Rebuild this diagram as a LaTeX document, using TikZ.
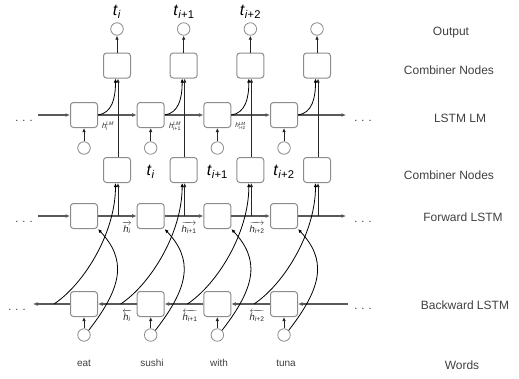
\documentclass[tikz,border=0pt]{standalone}
\usepackage{fontspec}
\setmainfont{Liberation Sans}
\usepackage{amsmath}
\usetikzlibrary{arrows.meta}
\newcommand{\mydots}{.\hspace{4pt}.\hspace{4pt}.}
\begin{document}
\begin{tikzpicture}[x=1pt,y=-1pt,
 cell/.style={draw=black!45, line width=1pt, rounded corners=3pt, minimum width=27pt, minimum height=25pt, inner sep=0pt, fill=white},
 io/.style={circle, draw=black!45, line width=0.8pt, minimum size=12.5pt, inner sep=0pt, fill=white},
 tip/.style={-{Latex[length=4pt,width=3.5pt]}},
 hline/.style={draw=black!65, line width=1.4pt, -{Latex[length=4.5pt,width=4pt]}},
 vline/.style={draw=black!85, line width=1pt, tip},
 curve/.style={draw=black, line width=0.8pt, tip},
 lab/.style={font=\fontsize{12}{14}\selectfont, text=black!75},
 tl/.style={font=\fontsize{16}{18}\selectfont},
 hl/.style={font=\fontsize{9.5}{10}\selectfont, text=black!85, inner sep=1pt},
 hlm/.style={font=\fontsize{7.5}{8}\selectfont, text=black!85, inner sep=0.5pt},
 dots/.style={font=\fontsize{11}{12}\selectfont, anchor=base, text=black!80},
]
\useasboundingbox (0,0) rectangle (519,378);

\foreach \i in {1,...,4} {
  \pgfmathsetmacro\bx{84+66.67*(\i-1)}
  \pgfmathsetmacro\cx{\bx+33}
  \node[cell] (lm\i) at (\bx,115) {};
  \node[cell] (uc\i) at (\cx,65.5) {};
  \node[io] (out\i) at (\cx,29) {};
  \node[io] (in\i) at (\bx,148) {};
  \node[cell] (lc\i) at (\cx,170) {};
  \node[cell] (fw\i) at (\bx,216) {};
  \node[cell] (bw\i) at (\bx,304) {};
  \node[io] (w\i) at (\bx,335) {};
  \coordinate (fj\i) at (\cx,216);
  \coordinate (bj\i) at (\bx-30,304);
}

% horizontal chains
\coordinate (lmL) at (38,115);  \coordinate (lmR) at (346,115);
\coordinate (fwL) at (38,216);  \coordinate (fwR) at (346,216);
\coordinate (bwL) at (33,304);  \coordinate (bwR) at (348,304);
\draw[hline] (lmL) -- (lm1);
\draw[hline] (lm1) -- (lm2);
\draw[hline] (lm2) -- (lm3);
\draw[hline] (lm3) -- (lm4);
\draw[hline] (lm4) -- (lmR);
\draw[hline] (fwL) -- (fw1);
\draw[hline] (fw1) -- (fw2);
\draw[hline] (fw2) -- (fw3);
\draw[hline] (fw3) -- (fw4);
\draw[hline] (fw4) -- (fwR);
\draw[hline] (bwR) -- (bw4);
\draw[hline] (bw4) -- (bw3);
\draw[hline] (bw3) -- (bw2);
\draw[hline] (bw2) -- (bw1);
\draw[hline] (bw1) -- (bwL);

\foreach \i in {1,...,4} {
  \draw[vline] (uc\i) -- (out\i);
  \draw[vline] (in\i) -- (lm\i);
  \draw[vline] (w\i) -- (bw\i);
  \draw[vline] ([xshift=1pt]lc\i.north) -- ([xshift=1pt]uc\i.south);
  \draw[vline] ([xshift=1pt]fj\i) -- ([xshift=1pt]lc\i.south);
  \draw[curve] (lm\i.east) .. controls +(14,-2) and +(0,20) .. ([xshift=-1.5pt]uc\i.south);
  \draw[curve] (bj\i) .. controls +(30,-20) and +(0,50) .. ([xshift=-1.5pt]lc\i.south);
  \draw[curve] (w\i.north east) .. controls +(35,-45) and +(28,30) .. (fw\i.south east);
}

% labels
\node[tl] (t1) at (117,12) {\textit{t}\textsubscript{\textit{i}}};
\node[tl] (t2) at (184,12) {\textit{t}\textsubscript{\textit{i}+1}};
\node[tl] (t3) at (250.5,12) {\textit{t}\textsubscript{\textit{i}+2}};
\node[tl] (s1) at (150.7,172) {\textit{t}\textsubscript{\textit{i}}};
\node[tl] (s2) at (217.3,172) {\textit{t}\textsubscript{\textit{i}+1}};
\node[tl] (s3) at (284,172) {\textit{t}\textsubscript{\textit{i}+2}};

\node[hlm] (hl1) at (108,126) {$\textit{h}^{\text{\textit{LM}}}_{\text{\textit{i}}}$};
\node[hlm] (hl2) at (175,126.5) {$\textit{h}^{\text{\textit{LM}}}_{\text{\textit{i}+1}}$};
\node[hlm, font=\fontsize{6.5}{7}\selectfont] (hl3) at (240.5,126) {$\textit{h}^{\text{\textit{LM}}}_{\text{\textit{i}+2}}$};

\node[hl] (hf1) at (127,228) {$\overrightarrow{\textit{h}_{\text{\textit{i}}}}$};
\node[hl] (hf2) at (189,228) {$\overrightarrow{\textit{h}_{\text{\textit{i}+1}}}$};
\node[hl] (hf3) at (257,228) {$\overrightarrow{\textit{h}_{\text{\textit{i}+2}}}$};
\node[hl] (hb1) at (127,316) {$\overleftarrow{\textit{h}_{\text{\textit{i}}}}$};
\node[hl] (hb2) at (190,316) {$\overleftarrow{\textit{h}_{\text{\textit{i}+1}}}$};
\node[hl] (hb3) at (257,316) {$\overleftarrow{\textit{h}_{\text{\textit{i}+2}}}$};

\node[lab, font=\fontsize{10}{12}\selectfont] (wa) at (84,363) {eat};
\node[lab, font=\fontsize{10}{12}\selectfont] (wb) at (152,363) {sushi};
\node[lab, font=\fontsize{10}{12}\selectfont] (wc) at (219,363) {with};
\node[lab, font=\fontsize{10}{12}\selectfont] (wd) at (286,363) {tuna};

\node[dots] (d1) at (24,121) {\mydots};
\node[dots] (d2) at (24,222) {\mydots};
\node[dots] (d3) at (17,310) {\mydots};
\node[dots] (d4) at (363,121) {\mydots};
\node[dots] (d5) at (363,222) {\mydots};
\node[dots] (d6) at (363,309) {\mydots};

\node[lab] (r1) at (451,33) {Output};
\node[lab] (r2) at (449,70) {Combiner Nodes};
\node[lab] (r3) at (460,118) {LSTM LM};
\node[lab] (r4) at (449,175) {Combiner Nodes};
\node[lab] (r5) at (463,217) {Forward LSTM};
\node[lab] (r6) at (465,305) {Backward LSTM};
\node[lab] (r7) at (462,365) {Words};
\end{tikzpicture}
\end{document}
